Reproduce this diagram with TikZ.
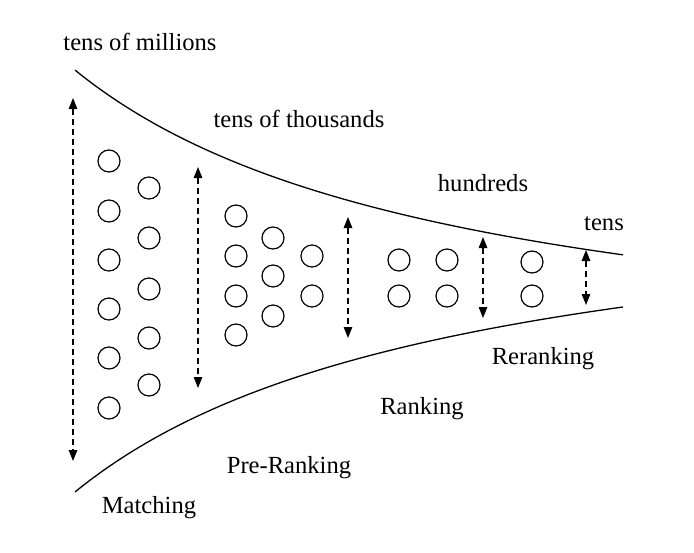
\documentclass[tikz,border=0pt]{standalone}
\usepackage{fontspec}
\setmainfont{Liberation Serif}
\usetikzlibrary{arrows.meta}
\begin{document}
\begin{tikzpicture}[x=1pt,y=-1pt,
  lbl/.style={font=\fontsize{24.6}{28}\selectfont, inner sep=0pt, yshift=-2pt},
  item/.style={circle, draw, line width=1.2pt, minimum size=22pt, inner sep=0pt},
  span/.style={dashed, dash pattern=on 6pt off 4pt, line width=1.2pt, {Triangle[length=11pt,width=8.5pt]}-{Triangle[length=11pt,width=8.5pt]}},
  funnel/.style={line width=1.3pt}]
\useasboundingbox (0,0) rectangle (694,552);
% funnel curves
\draw[funnel] plot[domain=75:623, samples=80, smooth] (\x, {281-(1229/(\x/100+3.14)-105)});
\draw[funnel] plot[domain=75:623, samples=80, smooth] (\x, {281+(1226/(\x/100+3.13)-105)});
% labels
\node[lbl] (l1) at (140,40) {tens of millions};
\node[lbl] (l2) at (299,117) {tens of thousands};
\node[lbl] (l3) at (483,181) {hundreds};
\node[lbl] (l4) at (604,222) {tens};
\node[lbl] (l5) at (543,357) {Reranking};
\node[lbl] (l6) at (422,407) {Ranking};
\node[lbl] (l7) at (289,466) {Pre-Ranking};
\node[lbl] (l8) at (149,506) {Matching};
% circles
\foreach \y [count=\i] in {161,211,260,309,358,408} \node[item] (a\i) at (109,\y) {};
\foreach \y [count=\i] in {188,238,289,338,385} \node[item] (b\i) at (149,\y) {};
\foreach \y [count=\i] in {216,256,296,335} \node[item] (c\i) at (236,\y) {};
\foreach \y [count=\i] in {238,276,316} \node[item] (d\i) at (273,\y) {};
\foreach \y [count=\i] in {256,296} \node[item] (e\i) at (312,\y) {};
\foreach \y [count=\i] in {260,296} \node[item] (f\i) at (399,\y) {};
\foreach \y [count=\i] in {260,296} \node[item] (g\i) at (447,\y) {};
\foreach \y [count=\i] in {262,296} \node[item] (h\i) at (532,\y) {};
% arrows
\coordinate (s1t) at (73,98);  \coordinate (s1b) at (73,461);
\coordinate (s2t) at (198,167); \coordinate (s2b) at (198,388);
\coordinate (s3t) at (348,217); \coordinate (s3b) at (348,338);
\coordinate (s4t) at (483,237); \coordinate (s4b) at (483,318);
\coordinate (s5t) at (586,250); \coordinate (s5b) at (586,305);
\draw[span] (s1t) -- (s1b);
\draw[span] (s2t) -- (s2b);
\draw[span] (s3t) -- (s3b);
\draw[span] (s4t) -- (s4b);
\draw[span] (s5t) -- (s5b);
\end{tikzpicture}
\end{document}
